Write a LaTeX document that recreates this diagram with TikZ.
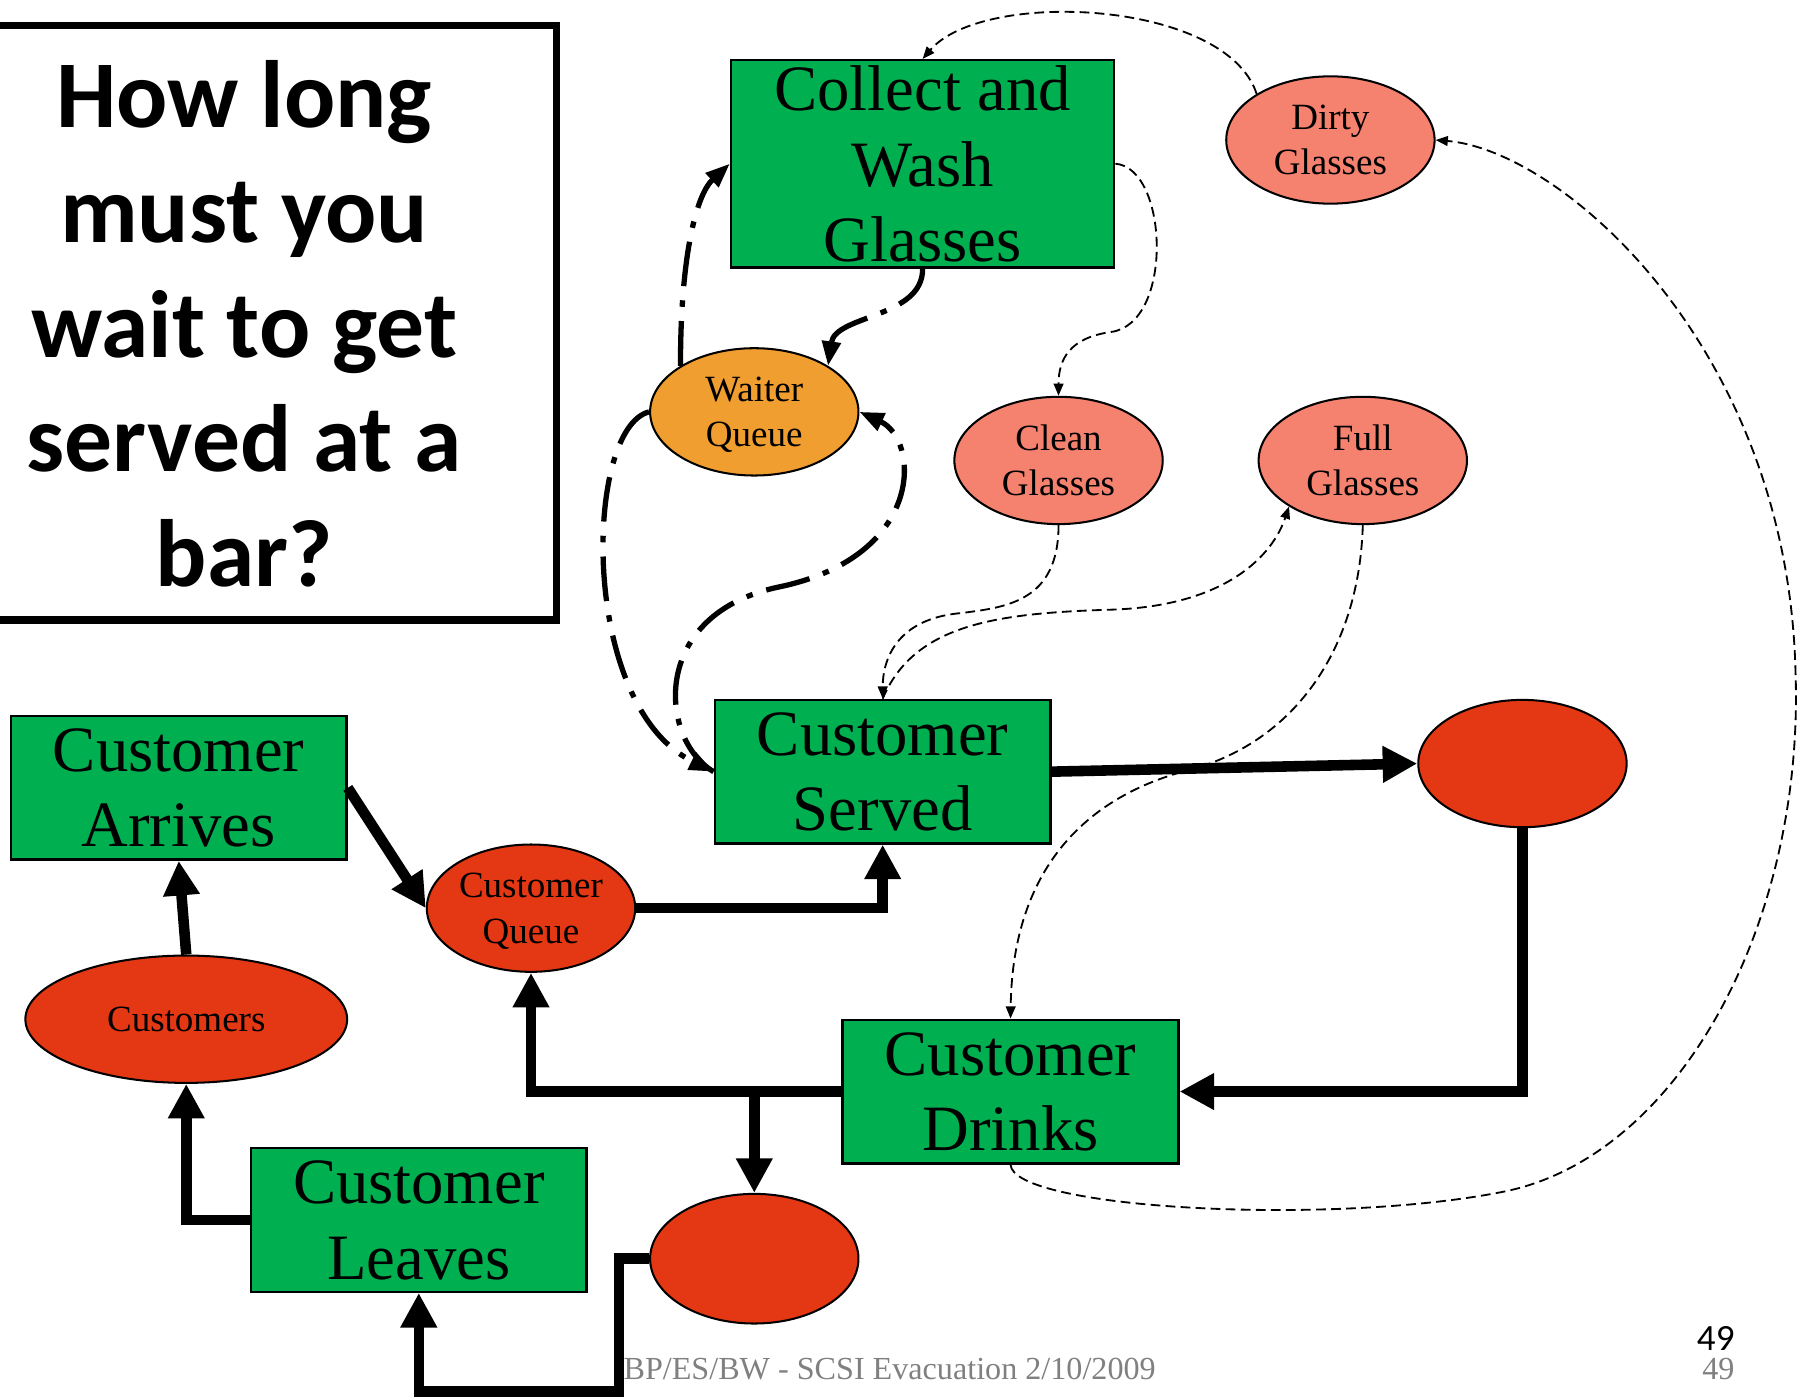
\documentclass[tikz,border=0pt]{standalone}
\usepackage{fontspec}
\setmainfont{Liberation Serif}
\newfontfamily\titlefont{Carlito}
\usetikzlibrary{shapes.geometric,arrows.meta}

\definecolor{boxgreen}{RGB}{0,176,80}
\definecolor{tokenred}{RGB}{228,56,20}
\definecolor{glasspink}{RGB}{244,130,110}
\definecolor{waiterorange}{RGB}{240,158,48}
\definecolor{footgray}{RGB}{128,128,128}

\tikzset{
  event/.style={draw, line width=0.6pt, fill=boxgreen, minimum width=2.9cm, minimum height=1.24cm,
    inner sep=0pt, align=center, text depth=-1.2pt, font=\fontsize{15.9}{18.5}\selectfont},
  token/.style={ellipse, draw, line width=0.5pt, fill=tokenred, minimum width=1.8cm, minimum height=1.1cm,
    inner sep=0pt, align=center, text depth=-1.1pt, font=\fontsize{9.1}{11.1}\selectfont},
  glass/.style={token, fill=glasspink},
  flow/.style={line width=2.6pt, -{Triangle[length=8.5pt,width=8.5pt]}},
  waiterflow/.style={line width=1.3pt, dash pattern=on 11pt off 3.5pt on 1.6pt off 3.5pt,
    -{Triangle[length=6pt,width=4.5pt]}},
  link/.style={line width=0.45pt, dash pattern=on 2.4pt off 1.3pt, -{Triangle[length=3pt,width=2.4pt]}},
}

\begin{document}
\begin{tikzpicture}[x=0.01cm, y=-0.01cm]
  %\draw[lightgray, step=100] (0, 0) grid (1568, 1208);
  \useasboundingbox (0, 0) rectangle (1568, 1208);
  % question, the box runs off the left side
  \node[font=\titlefont\bfseries\fontsize{23.5}{28.2}\selectfont, align=center] (question) at (211, 280)
    {How long\\must you\\wait to get\\served at a\\bar?};
  \draw[line width=1.8pt] (-60, 22) rectangle (481, 536);

  % events
  \node[event, minimum width=3.31cm, minimum height=1.79cm] (collect) at (797.5, 141.5) {Collect and\\Wash\\Glasses};
  \node[event] (served) at (763, 667) {Customer\\Served};
  \node[event] (arrives) at (154.5, 681) {Customer\\Arrives};
  \node[event] (drinks) at (873.5, 943.5) {Customer\\Drinks};
  \node[event] (leaves) at (362, 1054.5) {Customer\\Leaves};

  % places
  \node[glass] (dirty) at (1150, 121) {Dirty\\Glasses};
  \node[glass] (clean) at (915, 398) {Clean\\Glasses};
  \node[glass] (full) at (1178, 398) {Full\\Glasses};
  \node[token, fill=waiterorange] (wqueue) at (652, 356) {Waiter\\Queue};
  \node[token] (cqueue) at (459, 785) {Customer\\Queue};
  \node[token, minimum width=2.78cm] (customers) at (161, 881) {Customers};
  \node[token] (hand) at (1316, 660) {};
  \node[token, minimum height=1.12cm] (empty) at (652, 1088) {};

  % customer flow
  \coordinate (split) at (652, 943.5);
  \coordinate (bottom) at (535, 1203);
  \draw[flow] (customers.north) -- (arrives.south);
  \draw[flow] (arrives.east) -- (cqueue.west);
  \draw[flow] (cqueue.east) -| (served.south);
  \draw[flow] (served.east) -- (hand.west);
  \draw[flow] (hand.south) |- (drinks.east);
  \draw[flow] (drinks.west) -| (cqueue.south);
  \draw[flow] (split) -- (empty.north);
  \draw[flow] (empty.west) -| (bottom) -| (leaves.south);
  \draw[flow] (leaves.west) -| (customers.south);

  % waiter
  \draw[waiterflow] (wqueue.148) .. controls (588, 230) and (600, 170) .. (collect.west);
  \draw[waiterflow] (collect.south) .. controls (798, 275) and (722, 272) .. (wqueue.32);
  \draw[waiterflow] (wqueue.west) .. controls (505, 370) and (500, 610) .. (served.west);
  \draw[waiterflow] (served.west) .. controls (570, 640) and (560, 530) .. (675, 507)
    .. controls (800, 480) and (795, 380) .. (wqueue.east);

  % glasses
  \draw[link] (dirty.148) .. controls (1060, 0) and (850, -10) .. (collect.north);
  \draw[link] (collect.east) .. controls (1010, 145) and (1015, 280) .. (960, 287)
    .. controls (925, 292) and (915, 310) .. (clean.north);
  \draw[link] (clean.south) .. controls (915, 520) and (870, 525) .. (830, 530)
    .. controls (775, 535) and (763, 570) .. (served.north);
  \draw[link] (served.north) .. controls (790, 540) and (860, 530) .. (960, 527)
    .. controls (1060, 524) and (1100, 480) .. (full.212);
  \draw[link] (full.south) .. controls (1175, 560) and (1120, 640) .. (1030, 665)
    .. controls (930, 690) and (875, 760) .. (drinks.north);
  \draw[link] (drinks.south) .. controls (875, 1045) and (1150, 1060) .. (1300, 1030)
    .. controls (1450, 1000) and (1560, 800) .. (1552, 580)
    .. controls (1545, 300) and (1350, 130) .. (dirty.east);

  % footer
  \node[font=\fontsize{7.9}{9}\selectfont, text=footgray, inner sep=0pt] (footer) at (769, 1183)
    {BP/ES/BW - SCSI Evacuation 2/10/2009};
  \node[font=\fontsize{7.9}{9}\selectfont, text=footgray, inner sep=0pt, anchor=east] (pagegray) at (1500, 1183) {49};
  \node[font=\titlefont\fontsize{9.1}{11}\selectfont, inner sep=0pt, anchor=east] (page) at (1500, 1157) {49};
\end{tikzpicture}
\end{document}
